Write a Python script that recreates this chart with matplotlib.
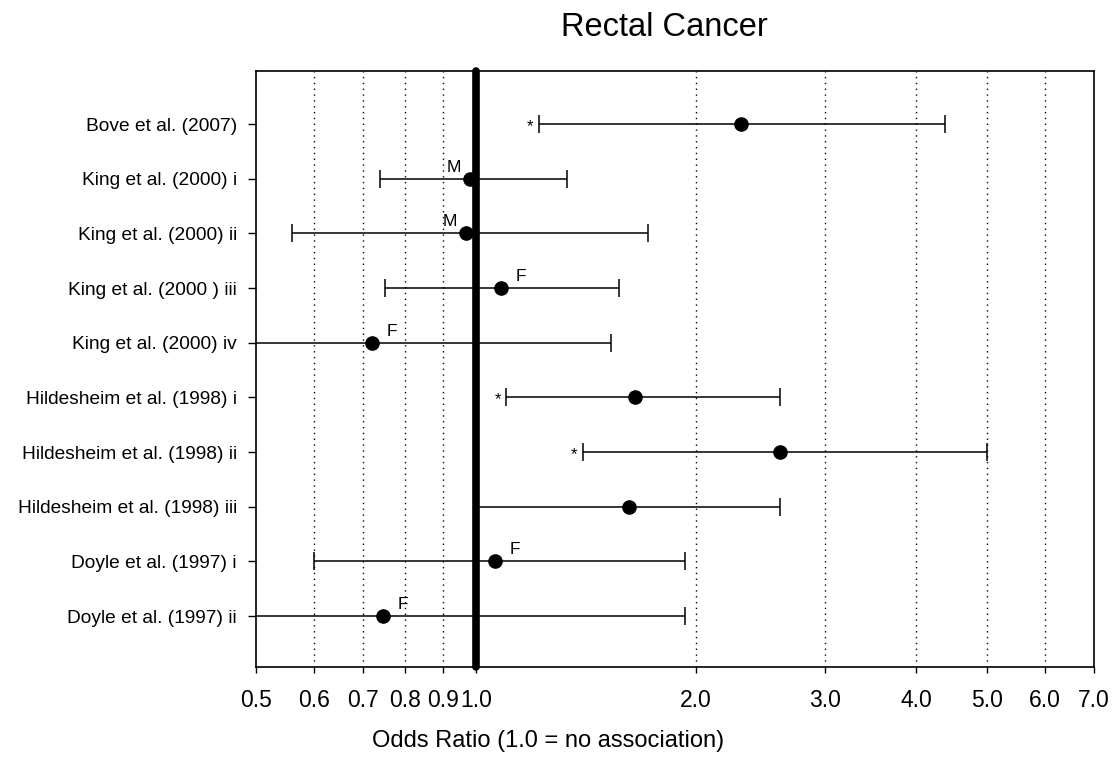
import numpy as np
import matplotlib
matplotlib.use("Agg")
from matplotlib import pyplot as plt

plt.rcParams['font.family'] = ['Liberation Sans', 'DejaVu Sans']

studies = ['Bove et al. (2007)', 'King et al. (2000) i', 'King et al. (2000) ii',
           'King et al. (2000 ) iii', 'King et al. (2000) iv',
           'Hildesheim et al. (1998) i', 'Hildesheim et al. (1998) ii',
           'Hildesheim et al. (1998) iii', 'Doyle et al. (1997) i',
           'Doyle et al. (1997) ii']
odds = [2.30, 0.98, 0.97, 1.08, 0.72, 1.65, 2.60, 1.62, 1.06, 0.745]
lower = [1.22, 0.74, 0.56, 0.75, 0.45, 1.10, 1.40, 1.00, 0.60, 0.45]
upper = [4.38, 1.33, 1.72, 1.57, 1.53, 2.60, 5.00, 2.60, 1.93, 1.93]
notes = ['*', 'M', 'M', 'F', 'F', '*', '*', '', 'F', 'F']

ticks = [0.5, 0.6, 0.7, 0.8, 0.9, 1.0, 2.0, 3.0, 4.0, 5.0, 6.0, 7.0]
tick_labels = ['0.5', '0.6', '0.7', '0.8', '0.9', '1.0', '2.0', '3.0', '4.0', '5.0', '6.0', '7.0']
grid_vals = [0.6, 0.7, 0.8, 0.9, 2.0, 3.0, 4.0, 5.0, 6.0]

fig = plt.figure(figsize=(11.15, 7.57), dpi=100)
ax = fig.add_axes([0.2296, 0.1189, 0.9812 - 0.2296, 0.9062 - 0.1189])

ypos = np.arange(len(studies))[::-1] + 1
odds = np.array(odds)
xerr = [odds - np.array(lower), np.array(upper) - odds]

# dotted reference lines
for g in grid_vals:
    ax.axvline(g, color='k', lw=1, linestyle=(0, (1, 3.2)), zorder=1)

ax.errorbar(odds, ypos, xerr=xerr, fmt='o', color='k', ms=9.5, elinewidth=1.1,
            capsize=6.5, capthick=1.1, zorder=3)
ax.axvline(1.0, color='k', lw=5.5, solid_capstyle='round', clip_on=False, zorder=5)

for o, lo, y, n in zip(odds, lower, ypos, notes):
    if n == '*':
        ax.annotate(n, (lo, y), xytext=(-4, -5), textcoords='offset points',
                    ha='right', va='baseline', fontsize=12)
    elif n == 'M':
        ax.annotate(n, (o, y), xytext=(-6.5, 3), textcoords='offset points',
                    ha='right', va='bottom', fontsize=12.5)
    elif n == 'F':
        ax.annotate(n, (o, y), xytext=(11, 3), textcoords='offset points',
                    ha='left', va='bottom', fontsize=12.5)

ax.set_xscale('log')
ax.set_xlim(0.5, 7.0)
ax.set_ylim(0.07, 10.97)
ax.set_xticks(ticks)
ax.set_xticklabels(tick_labels, fontsize=16.5)
ax.minorticks_off()
ax.set_yticks(ypos)
ax.set_yticklabels(studies, fontsize=13.8)
ax.tick_params(axis='x', direction='out', length=4.5, width=1, pad=11)
ax.tick_params(axis='y', direction='out', length=5.8, width=1, pad=8)
for s in ax.spines.values():
    s.set_linewidth(1.2)

ax.set_xlabel('Odds Ratio (1.0 = no association)', fontsize=17)
ax.xaxis.set_label_coords(0.348, -0.105)
ax.set_title('Rectal Cancer', fontsize=23.5, x=0.487, y=1.045)

plt.savefig('out.png', dpi=100)
plt.close()
